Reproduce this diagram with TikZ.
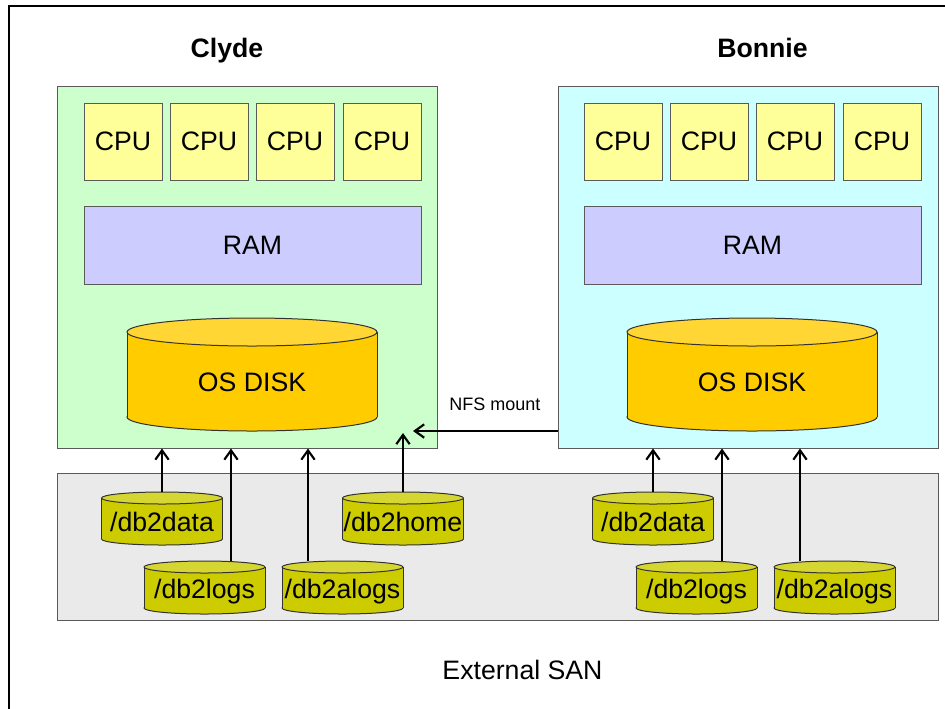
\documentclass[tikz,border=0pt]{standalone}
\usepackage{fontspec}
\setmainfont{Liberation Sans}
\usetikzlibrary{arrows.meta}

\definecolor{boxline}{HTML}{5A5A5A}
\definecolor{cylline}{HTML}{333333}
\definecolor{clydefill}{HTML}{CCFFCC}
\definecolor{bonniefill}{HTML}{CCFFFF}
\definecolor{cpufill}{HTML}{FFFF99}
\definecolor{ramfill}{HTML}{CCCCFF}
\definecolor{sanfill}{HTML}{EAEAEA}
\definecolor{bigtop}{HTML}{FFD633}
\definecolor{bigbody}{HTML}{FFCC00}
\definecolor{smalltop}{HTML}{D6D633}
\definecolor{smallbody}{HTML}{CCCC00}

% one drawing unit = one pixel of the 945 x 708 canvas
\def\px{0.75pt}

\tikzset{
  lbl/.style={font=\fontsize{20}{24}\selectfont, inner sep=0pt},
  title/.style={font=\fontsize{20}{24}\selectfont\bfseries, inner sep=0pt},
  small/.style={font=\fontsize{13.5}{16}\selectfont, inner sep=0pt},
  block/.style={draw=boxline, line width=0.75pt, inner sep=0pt, lbl},
  arr/.style={line width=1.6pt, -{Straight Barb[length=7pt,width=10pt,line width=1.6pt]}},
}

% block: style, name, x1, y1, x2, y2, text
\newcommand\blk[7]{%
  \node[block, #1, minimum width={((#5)-(#3))*\px}, minimum height={((#6)-(#4))*\px}]
    (#2) at ({((#3)+(#5))/2},{((#4)+(#6))/2}) {#7};}

% drum: name, cx, top, half width, height, ry, colour prefix, baseline, text
\newcommand\drum[9]{%
  \pgfmathsetmacro\dtop{#3+#6}%
  \pgfmathsetmacro\dbot{#3+#5-#6}%
  \filldraw[fill=#7body, draw=cylline, line width=0.75pt]
    (#2,\dbot) ellipse [x radius=#4, y radius=#6];
  \fill[#7body] (#2-#4,\dtop) rectangle (#2+#4,\dbot);
  \draw[cylline, line width=0.75pt]
    (#2-#4,\dtop) -- (#2-#4,\dbot) (#2+#4,\dtop) -- (#2+#4,\dbot);
  \filldraw[fill=#7top, draw=cylline, line width=0.75pt]
    (#2,\dtop) ellipse [x radius=#4, y radius=#6];
  \node[minimum width={2*#4*\px}, minimum height={#5*\px}, inner sep=0pt,
        anchor=north] (#1) at (#2,#3) {};
  \node[lbl, anchor=base] (#1-t) at (#2,#8) {#9};}

\begin{document}
\begin{tikzpicture}[x=0.75pt, y=-0.75pt]
  \useasboundingbox (0,0) rectangle (945,708);
  \clip (0,0) rectangle (945,708);

  % outer frame (runs off the right and bottom)
  \draw[line width=1.5pt] (9.2,5.8) rectangle (990,760);

  % storage area network
  \blk{fill=sanfill}{san}{57}{473}{938}{620}{}
  \node[lbl, anchor=base] (santxt) at (522.5,679) {External SAN};

  % servers
  \blk{fill=clydefill}{clyde}{57}{86}{437}{448}{}
  \blk{fill=bonniefill}{bonnie}{558}{86}{938}{448}{}
  \node[title, anchor=base] (clydetxt) at (227,57.5) {Clyde};
  \node[title, anchor=base] (bonnietxt) at (762.5,57.5) {Bonnie};

  % processors and memory
  \foreach \s/\o in {c/0, b/500}{
    \blk{fill=cpufill}{\s cpu1}{84+\o}{103}{162+\o}{180}{CPU}
    \blk{fill=cpufill}{\s cpu2}{170+\o}{103}{248+\o}{180}{CPU}
    \blk{fill=cpufill}{\s cpu3}{256+\o}{103}{334+\o}{180}{CPU}
    \blk{fill=cpufill}{\s cpu4}{343+\o}{103}{421+\o}{180}{CPU}
    \blk{fill=ramfill}{\s ram}{84+\o}{206}{421+\o}{284}{RAM}
  }

  % local disks
  \drum{cos}{252}{318}{125}{113}{14}{big}{391}{OS DISK}
  \drum{bos}{752}{318}{125}{113}{14}{big}{391}{OS DISK}

  % SAN volumes
  \drum{cdata}{162}{492}{60.5}{53}{6}{small}{531}{/db2data}
  \drum{clogs}{204.5}{561}{60.5}{53}{6}{small}{598}{/db2logs}
  \drum{calogs}{342.5}{561}{60.5}{53}{6}{small}{598}{/db2alogs}
  \drum{chome}{403}{492}{60.5}{53}{6}{small}{531}{/db2home}
  \drum{bdata}{653}{492}{60.5}{53}{6}{small}{531}{/db2data}
  \drum{blogs}{696.5}{561}{60.5}{53}{6}{small}{598}{/db2logs}
  \drum{balogs}{834.5}{561}{60.5}{53}{6}{small}{598}{/db2alogs}

  % mounts
  \coordinate (homeTip) at (403,433);
  \coordinate (nfsTip) at (413,431);

  \draw[arr] (cdata.north) -- (cdata.north |- clyde.south);
  \draw[arr] ([xshift=26.5*\px]clogs.north) -- ([xshift=26.5*\px]clogs.north |- clyde.south);
  \draw[arr] ([xshift=-34.5*\px]calogs.north) -- ([xshift=-34.5*\px]calogs.north |- clyde.south);
  \draw[arr] (chome.north) -- (homeTip);

  \draw[arr] (bdata.north) -- (bdata.north |- bonnie.south);
  \draw[arr] ([xshift=25.5*\px]blogs.north) -- ([xshift=25.5*\px]blogs.north |- bonnie.south);
  \draw[arr] ([xshift=-34.5*\px]balogs.north) -- ([xshift=-34.5*\px]balogs.north |- bonnie.south);

  % shared home directory
  \draw[arr] (bonnie.west |- nfsTip) -- (nfsTip);
  \node[small, anchor=base] (nfstxt) at (495,410) {NFS mount};
\end{tikzpicture}
\end{document}
